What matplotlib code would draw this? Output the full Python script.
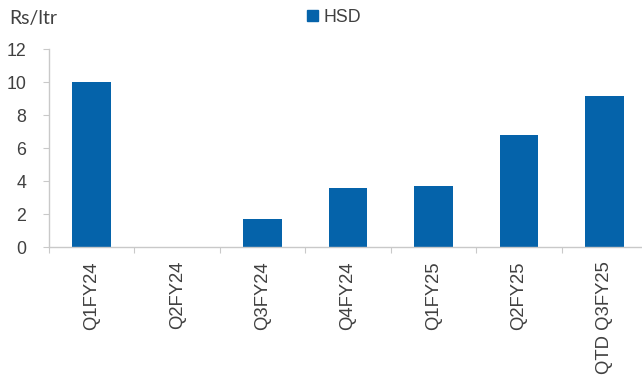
import matplotlib.pyplot as plt
from matplotlib.patches import Patch

# Rs/ltr per quarter
quarters = ['Q1FY24', 'Q2FY24', 'Q3FY24', 'Q4FY24', 'Q1FY25', 'Q2FY25', 'QTD Q3FY25']
hsd = [10.0, 0.03, 1.72, 3.6, 3.72, 6.78, 9.18]

bar_color = '#0563aa'
axis_color = '#c9c9c9'
text_color = '#404040'
arial = ['Liberation Sans', 'DejaVu Sans']

plt.rcParams['font.family'] = ['Lato', 'DejaVu Sans']

fig = plt.figure(figsize=(6.42, 3.78), dpi=100)
# right edge of the plot runs slightly past the canvas, as in the reference
ax = fig.add_axes([0.0763, 0.346, 0.9315, 0.524])

x = list(range(len(quarters)))
ax.bar(x, hsd, width=0.45, color=bar_color, zorder=2)

ax.set_xlim(-0.5, len(quarters) - 0.5)
ax.set_ylim(0, 12)
ax.set_yticks(range(0, 13, 2))
for lbl in ax.get_yticklabels():
    lbl.set_family(arial)

# category boundary ticks on the x axis, labels in the middle
ax.set_xticks([i - 0.5 for i in x] + [len(quarters) - 0.5])
ax.set_xticklabels([])
ax.set_xticks(x, minor=True)
ax.set_xticklabels(quarters, minor=True, rotation=90, family=arial,
                   fontsize=13.3, color=text_color)
ax.tick_params(axis='x', which='minor', length=0, pad=10)
ax.tick_params(axis='x', which='major', length=4.3, color=axis_color)
ax.tick_params(axis='y', length=4.3, color=axis_color, labelsize=12.8,
               labelcolor=text_color, pad=12)

for side in ['top', 'right']:
    ax.spines[side].set_visible(False)
for side in ['left', 'bottom']:
    ax.spines[side].set_color(axis_color)
    ax.spines[side].set_linewidth(1.0)

fig.text(0.015, 0.952, 'Rs/ltr', fontsize=14, color=text_color, va='center')

handle = Patch(color=bar_color, label='HSD')
fig.legend(handles=[handle], loc='center', bbox_to_anchor=(0.52, 0.955),
           frameon=False, prop={'family': arial, 'size': 12.8},
           handlelength=0.6, handleheight=0.6, handletextpad=0.3,
           labelcolor=text_color)

fig.savefig('out.png', dpi=100)
